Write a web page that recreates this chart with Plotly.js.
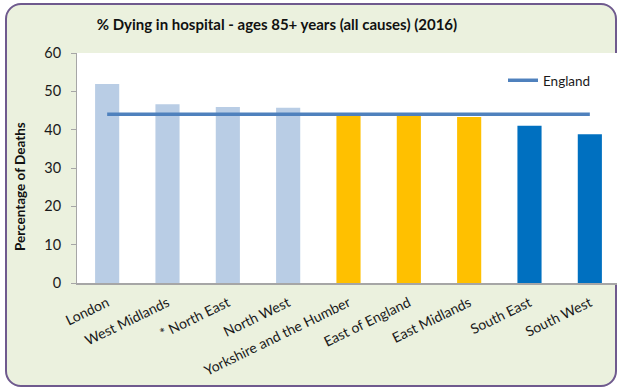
<!DOCTYPE html>
<html>
<head>
<meta charset="utf-8">
<script src="https://cdn.plot.ly/plotly-3.0.1.min.js"></script>
<style>
  html, body { margin: 0; padding: 0; background: #ffffff; overflow: hidden; }
  #wrap { position: relative; width: 617px; height: 388px; overflow: hidden; }
  #frame {
    position: absolute; left: 5px; top: 3px; width: 608px; height: 380px;
    background: #ebf1de; border: 2px solid #6f5a8e; border-radius: 16px;
  }
  #chart { position: absolute; left: 0; top: 0; width: 620px; height: 388px; }
</style>
</head>
<body>
<div id="wrap">
  <div id="frame"></div>
  <div id="chart"></div>
</div>
<script>
// Regions of England, percentage of deaths (ages 85+) occurring in hospital, 2016
const regions = [
  "London", "West Midlands", "* North East", "North West",
  "Yorkshire and the Humber", "East of England", "East Midlands",
  "South East", "South West"
];
const hospitalDeaths = [51.9, 46.6, 45.9, 45.7, 43.7, 43.7, 43.3, 41.0, 38.8];
const englandAverage = [44.0, 44.0, 44.0, 44.0, 44.0, 44.0, 44.0, 44.0, 44.0];
const yTicks = [0, 10, 20, 30, 40, 50, 60];

// Bar shading by comparison band (higher / similar / lower than England)
const barColours = [
  "#b9cde5", "#b9cde5", "#b9cde5", "#b9cde5",
  "#ffc000", "#ffc000", "#ffc000",
  "#0070c0", "#0070c0"
];

const font = "Lato, 'Open Sans', sans-serif";

const bars = {
  type: "bar",
  x: regions,
  y: hospitalDeaths,
  marker: { color: barColours, line: { width: 0 } },
  showlegend: false,
  hoverinfo: "x+y"
};

const england = {
  type: "scatter",
  mode: "lines",
  name: "England",
  x: regions,
  y: englandAverage,
  line: { color: "#4f81bd", width: 3.5 },
  showlegend: true
};

const layout = {
  width: 620,
  height: 388,
  margin: { l: 77, r: 0, t: 53, b: 105 },
  paper_bgcolor: "rgba(0,0,0,0)",
  plot_bgcolor: "#ffffff",
  bargap: 0.6,
  font: { family: font, size: 14, color: "#1a1a1a" },
  title: {
    text: "<b>% Dying in hospital - ages 85+ years (all causes) (2016)</b>",
    font: { family: font, size: 15, color: "#111111" },
    x: 277 / 620, xref: "container", xanchor: "center",
    y: 1 - 25 / 388, yref: "container", yanchor: "middle"
  },
  xaxis: {
    type: "category",
    showline: true, linecolor: "#a6a6a6", linewidth: 1.5,
    ticks: "", showgrid: false, zeroline: false,
    tickangle: -26,
    tickfont: { family: font, size: 14, color: "#1a1a1a" },
    ticklabelstandoff: 5
  },
  yaxis: {
    range: [0, 60],
    tickvals: yTicks,
    ticktext: yTicks.map(String),
    showline: true, linecolor: "#a6a6a6", linewidth: 1,
    ticks: "outside", ticklen: 5, tickcolor: "#a6a6a6",
    showgrid: false, zeroline: false,
    tickfont: { family: font, size: 14.5, color: "#1a1a1a" },
    ticklabelstandoff: 7
  },
  legend: {
    x: (503 - 77) / 543, xanchor: "left",
    y: 1 - (65 - 53) / 230, yanchor: "top",
    bgcolor: "rgba(0,0,0,0)",
    font: { family: font, size: 13.5, color: "#1a1a1a" }
  },
  annotations: [{
    text: "<b>Percentage of Deaths</b>",
    xref: "paper", yref: "paper",
    x: (20 - 77) / 543, y: 1 - (187 - 53) / 230,
    xanchor: "center", yanchor: "middle",
    textangle: -90, showarrow: false,
    font: { family: font, size: 13.5, color: "#111111" }
  }]
};

Plotly.newPlot("chart", [bars, england], layout, { displayModeBar: false, staticPlot: true });
</script>
</body>
</html>
